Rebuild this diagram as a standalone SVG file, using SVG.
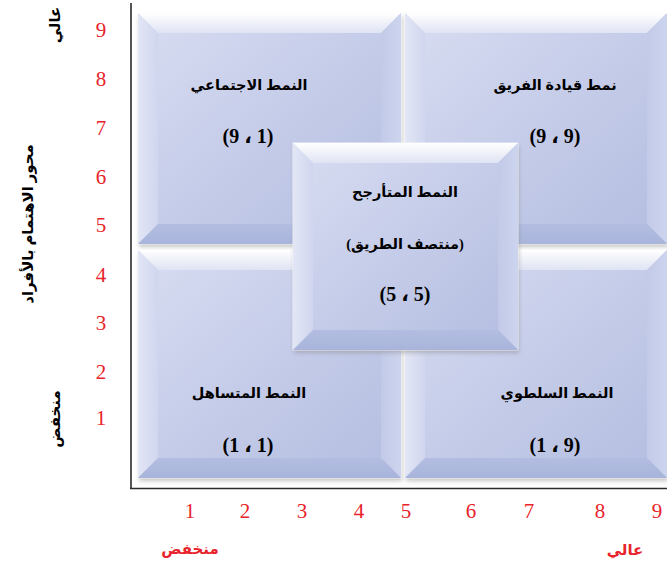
<svg xmlns="http://www.w3.org/2000/svg" width="667" height="565" viewBox="0 0 667 565">
<style>
.lbl{font-family:"Liberation Serif","DejaVu Sans",serif;font-weight:bold;font-size:14.5px;fill:#000;text-anchor:middle;direction:rtl}
.coord{font-family:"Liberation Serif","DejaVu Sans",serif;font-weight:bold;font-size:20px;fill:#000;text-anchor:middle}
.num{font-family:"Liberation Serif","Times New Roman",serif;font-size:21px;fill:#e8232b;text-anchor:middle}
.rlbl{font-family:"Liberation Serif","DejaVu Sans",serif;font-weight:bold;font-size:15px;fill:#e8232b;text-anchor:middle;direction:rtl}
.vlbl{font-family:"Liberation Serif","DejaVu Sans",serif;font-weight:bold;font-size:15px;fill:#000;text-anchor:middle;direction:rtl;dominant-baseline:central}
.face{fill:url(#gFace);stroke:#ffffff;stroke-width:1;stroke-opacity:0.8}
.bt{fill:url(#gTop)}
.bl{fill:url(#gLeft)}
.br{fill:url(#gRight)}
.bb{fill:url(#gBottom)}
.shadow{fill:#8c8c8c;opacity:0.5;filter:url(#blur)}
.axis{stroke:#2b2b2b;stroke-width:1.6;fill:none}
</style>
<defs>
<linearGradient id="gFace" x1="0" y1="0" x2="1" y2="1">
<stop offset="0" stop-color="#d8ddf1"/>
<stop offset="0.5" stop-color="#c5cce9"/>
<stop offset="1" stop-color="#b3bde0"/>
</linearGradient>
<linearGradient id="gTop" x1="0" y1="0" x2="0" y2="1">
<stop offset="0" stop-color="#ffffff"/>
<stop offset="1" stop-color="#dfe3f3"/>
</linearGradient>
<linearGradient id="gLeft" x1="0" y1="0" x2="1" y2="0">
<stop offset="0" stop-color="#e2e6f5"/>
<stop offset="1" stop-color="#d0d6ee"/>
</linearGradient>
<linearGradient id="gRight" x1="0" y1="0" x2="1" y2="0">
<stop offset="0" stop-color="#c2cae8"/>
<stop offset="1" stop-color="#cdd4ee"/>
</linearGradient>
<linearGradient id="gBottom" x1="0" y1="0" x2="0" y2="1">
<stop offset="0" stop-color="#b3bde1"/>
<stop offset="1" stop-color="#a9b4db"/>
</linearGradient>
<filter id="blur" x="-10%" y="-10%" width="120%" height="120%">
<feGaussianBlur stdDeviation="2"/>
</filter>
</defs>
<rect width="667" height="565" fill="#ffffff"/>

<g id="axes">
<line class="axis" x1="131" y1="3" x2="131" y2="489"/>
<line class="axis" x1="130" y1="488.5" x2="667" y2="488.5"/>
<g id="y-ticks">
<text class="num" x="101" y="37">9</text>
<text class="num" x="101" y="86">8</text>
<text class="num" x="101" y="135">7</text>
<text class="num" x="101" y="184">6</text>
<text class="num" x="101" y="232">5</text>
<text class="num" x="101" y="282">4</text>
<text class="num" x="101" y="330">3</text>
<text class="num" x="101" y="379">2</text>
<text class="num" x="101" y="425">1</text>
</g>
<g id="x-ticks">
<text class="num" x="190" y="518">1</text>
<text class="num" x="245" y="518">2</text>
<text class="num" x="302" y="518">3</text>
<text class="num" x="359" y="518">4</text>
<text class="num" x="406" y="518">5</text>
<text class="num" x="471" y="518">6</text>
<text class="num" x="529" y="518">7</text>
<text class="num" x="600" y="518">8</text>
<text class="num" x="657" y="518">9</text>
</g>
<text class="rlbl" x="190" y="554">منخفض</text>
<text class="rlbl" x="625" y="555">عالي</text>
<text class="vlbl" x="55" y="25" transform="rotate(-90 55 25)">عالي</text>
<text class="vlbl" x="28" y="224" transform="rotate(-90 28 224)">محور الاهتمام بالأفراد</text>
<text class="vlbl" x="55" y="419" transform="rotate(-90 55 419)">منخفض</text>
</g>

<g id="node-social">
<rect class="shadow" x="139" y="16" width="263" height="231"/>
<rect class="face" x="138" y="13" width="263" height="231"/>
<polygon class="bt" points="138,13 401,13 381,33 158,33"/>
<polygon class="bl" points="138,13 158,33 158,224 138,244"/>
<polygon class="br" points="401,13 401,244 381,224 381,33"/>
<polygon class="bb" points="138,244 158,224 381,224 401,244"/>
<text class="lbl" x="249" y="90">النمط الاجتماعي</text>
<text class="coord" x="248" y="143">(9 ، 1)</text>
</g>

<g id="node-team">
<rect class="shadow" x="406" y="16" width="262" height="231"/>
<rect class="face" x="405" y="13" width="262" height="231"/>
<polygon class="bt" points="405,13 667,13 647,33 425,33"/>
<polygon class="bl" points="405,13 425,33 425,224 405,244"/>
<polygon class="br" points="667,13 667,244 647,224 647,33"/>
<polygon class="bb" points="405,244 425,224 647,224 667,244"/>
<text class="lbl" x="555" y="90">نمط قيادة  الفريق</text>
<text class="coord" x="555" y="143">(9 ، 9)</text>
</g>

<g id="node-impoverished">
<rect class="shadow" x="139" y="253" width="263" height="228"/>
<rect class="face" x="138" y="250" width="263" height="228"/>
<polygon class="bt" points="138,250 401,250 381,270 158,270"/>
<polygon class="bl" points="138,250 158,270 158,458 138,478"/>
<polygon class="br" points="401,250 401,478 381,458 381,270"/>
<polygon class="bb" points="138,478 158,458 381,458 401,478"/>
<text class="lbl" x="249" y="398">النمط المتساهل</text>
<text class="coord" x="248" y="452">(1 ، 1)</text>
</g>

<g id="node-authority">
<rect class="shadow" x="406" y="253" width="262" height="228"/>
<rect class="face" x="405" y="250" width="262" height="228"/>
<polygon class="bt" points="405,250 667,250 647,270 425,270"/>
<polygon class="bl" points="405,250 425,270 425,458 405,478"/>
<polygon class="br" points="667,250 667,478 647,458 647,270"/>
<polygon class="bb" points="405,478 425,458 647,458 667,478"/>
<text class="lbl" x="557" y="398">النمط السلطوي</text>
<text class="coord" x="555" y="452">(1 ، 9)</text>
</g>

<g id="node-middle">
<rect class="shadow" x="294" y="146" width="225" height="207"/>
<rect class="face" x="293" y="143" width="225" height="207"/>
<polygon class="bt" points="293,143 518,143 498,163 313,163"/>
<polygon class="bl" points="293,143 313,163 313,330 293,350"/>
<polygon class="br" points="518,143 518,350 498,330 498,163"/>
<polygon class="bb" points="293,350 313,330 498,330 518,350"/>
<text class="lbl" x="405" y="197">النمط المتأرجح</text>
<text class="lbl" x="405" y="249">(منتصف الطريق)</text>
<text class="coord" x="405" y="301">(5 ، 5)</text>
</g>

<g id="connectors"></g>
</svg>
